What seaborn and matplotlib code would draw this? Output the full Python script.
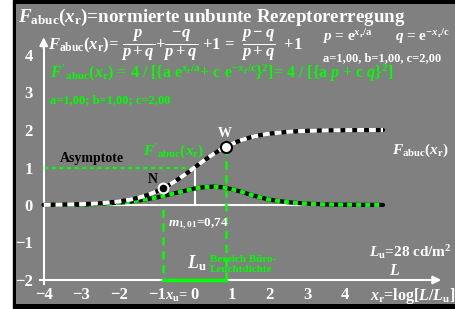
import matplotlib
matplotlib.use("Agg")
import matplotlib.pyplot as plt
import seaborn as sns
from matplotlib.patches import Rectangle

# values
x_curve = [-4.0, -3.5, -3.0, -2.5, -2.0, -1.75, -1.5, -1.25, -1.0, -0.75, -0.5, -0.25,
           0.0, 0.25, 0.5, 0.75, 1.0, 1.25, 1.5, 1.75, 2.0, 2.5, 3.0, 3.5, 4.0, 4.5, 5.0]
f_abuc = [0.005, 0.01, 0.022, 0.046, 0.095, 0.135, 0.19, 0.266, 0.365, 0.49, 0.642, 0.815,
          1.0, 1.185, 1.358, 1.51, 1.635, 1.734, 1.81, 1.865, 1.905, 1.954, 1.978, 1.99, 1.995, 1.998, 1.999]
f_deriv = [0.0, 0.005, 0.01, 0.03, 0.06, 0.085, 0.12, 0.16, 0.2, 0.26, 0.32, 0.38,
           0.44, 0.475, 0.49, 0.47, 0.42, 0.35, 0.27, 0.2, 0.14, 0.07, 0.035, 0.015, 0.008, 0.004, 0.002]
x_ticks = [-4, -3, -2, -1, 0, 1, 2, 3, 4]
y_ticks = [-2, -1, 0, 1, 2, 3, 4]
n_point = (-0.83, 0.45)
w_point = (0.84, 1.56)

sns.set_theme(style="white")
plt.rcParams["font.family"] = ["Liberation Serif", "DejaVu Serif"]
plt.rcParams["font.weight"] = "bold"
plt.rcParams["mathtext.fontset"] = "custom"
plt.rcParams["mathtext.rm"] = "Liberation Serif:bold"
plt.rcParams["mathtext.it"] = "Liberation Serif:italic:bold"
plt.rcParams["mathtext.bf"] = "Liberation Serif:bold"
plt.rcParams["lines.scale_dashes"] = False

GRAY = "#808080"
GREEN = "#00ff00"

fig = plt.figure(figsize=(4.55, 3.09), dpi=100, facecolor="white")
fig.patches.append(Rectangle((13 / 455, 0), 1, 1, transform=fig.transFigure,
                             color="black", zorder=-10))
ax = fig.add_axes([16 / 455, 5 / 309, 439 / 455, 300 / 309])
ax.set_zorder(1)
ax.set_facecolor(GRAY)
ax.set_xlim(-4.735, 6.91)
ax.set_ylim(-2.64, 5.36)

# axes drawn in white inside the grey field
for s in ("top", "right"):
    ax.spines[s].set_visible(False)
ax.spines["left"].set_position(("data", -4))
ax.spines["bottom"].set_position(("data", -2))
ax.spines["left"].set_bounds(-2.1, 4.3)
ax.spines["bottom"].set_bounds(-4.1, 6.4)
for s in ("left", "bottom"):
    ax.spines[s].set_color("white")
    ax.spines[s].set_linewidth(1.5)
ax.set_xticks(x_ticks)
ax.set_yticks(y_ticks)
ax.set_xticklabels([str(t).replace("-", "\u2212") for t in x_ticks])
ax.set_yticklabels([str(t).replace("-", "\u2212") for t in y_ticks])
ax.tick_params(direction="inout", length=7.5, width=1.5, colors="white", labelsize=12)
ax.tick_params(axis="y", pad=4)
ax.tick_params(axis="x", pad=1)
ax.annotate("", xy=(6.62, -2), xytext=(6.2, -2),
            arrowprops=dict(arrowstyle="-|>", color="white", lw=1.5, mutation_scale=12))
ax.annotate("", xy=(-4, 4.55), xytext=(-4, 4.1),
            arrowprops=dict(arrowstyle="-|>", color="white", lw=1.5, mutation_scale=12))

# helper lines
ax.plot([-4, 5], [0, 0], color="white", lw=1.5, zorder=2)
ax.plot([0, 0], [0, 1], color="white", lw=1.5, zorder=2)
ax.plot([-4, 0], [1, 1], color=GREEN, lw=1.6, dashes=(3, 2.5), zorder=2)
ax.plot([n_point[0], n_point[0]], [-0.1, -2], color=GREEN, lw=1.8, dashes=(6, 4), zorder=2)
ax.plot([w_point[0], w_point[0]], [w_point[1], -2], color=GREEN, lw=1.8, dashes=(6, 4), zorder=2)
ax.plot([n_point[0], w_point[0]], [-2, -2], color=GREEN, lw=2.5, zorder=3)

# derivative curve: black under green dashes
sns.lineplot(x=x_curve, y=f_deriv, ax=ax, color="black", lw=3, zorder=4)
sns.lineplot(x=x_curve, y=f_deriv, ax=ax, color=GREEN, lw=3, zorder=5
             ).lines[-1].set_dashes((3.5, 3))
# F_abuc curve: black under white dashes
sns.lineplot(x=x_curve, y=f_abuc, ax=ax, color="black", lw=3, zorder=6)
sns.lineplot(x=x_curve, y=f_abuc, ax=ax, color="white", lw=3, zorder=7
             ).lines[-1].set_dashes((5, 3.5))

ax.plot(*n_point, "o", ms=7, mfc="black", mec="white", mew=1.5, zorder=8)
ax.plot(*w_point, "o", ms=8, mfc="white", mec="black", mew=1.5, zorder=8)

# texts
ax.text(-4.68, 4.99, r"$F_{\mathrm{abuc}}(x_{\mathrm{r}})$=normierte unbunte Rezeptorerregung",
        color="white", fontsize=13.7, va="center", ha="left")
ax.text(-3.89, 4.25, r"$F_{\mathrm{abuc}}(x_\mathrm{r})$= $\dfrac{p}{p+q}$+$\dfrac{-q}{p+q}$ +1 = "
        r" $\dfrac{p-q}{p+q}$  +1", color="white", fontsize=12, va="center", ha="left")
ax.text(3.38, 4.5, r"$p$ = e$^{x_\mathrm{r}/\mathrm{a}}$", color="white", fontsize=11,
        va="center", ha="left")
ax.text(5.32, 4.5, r"$q$ = e$^{-x_\mathrm{r}/\mathrm{c}}$", color="white", fontsize=11,
        va="center", ha="left", clip_on=True)
ax.text(3.41, 3.92, "a=1,00, b=1,00, c=2,00", color="white", fontsize=9,
        va="center", ha="left")
ax.text(-3.83, 3.5, r"$F'_{\mathrm{abuc}}(x_\mathrm{r})$ = 4 / [{a e$^{x_\mathrm{r}/\mathrm{a}}$+ c e"
        r"$^{-x_\mathrm{r}/\mathrm{c}}$}$^2$]= 4 / [{a $p$ + c $q$}$^2$]",
        color=GREEN, fontsize=11.5, va="center", ha="left")
ax.text(-3.83, 2.8, "a=1,00; b=1,00; c=2,00", color=GREEN, fontsize=9, va="center", ha="left")

ax.text(-3.57, 1.25, "Asymptote", color="black", fontsize=10, va="center", ha="left")
ax.text(-1.37, 1.41, r"$F'_{\mathrm{abuc}}(x_\mathrm{r})$", color=GREEN, fontsize=11,
        va="center", ha="left")
ax.text(-1.1, 0.67, "N", color="black", fontsize=10, va="center", ha="center")
ax.text(0.81, 1.9, "W", color="white", fontsize=10, va="center", ha="center")
ax.text(5.24, 1.47, r"$F_{\mathrm{abuc}}(x_\mathrm{r})$", color="white", fontsize=11,
        va="center", ha="left")
ax.text(-0.7, -0.5, r"$m_{1,01}$=0,74", color="white", fontsize=9.5, va="center", ha="left")
ax.text(-0.2, -1.55, r"$L_\mathrm{u}$", color="white", fontsize=13, va="center", ha="left")
ax.text(0.41, -1.44, "Bereich Büro-", color=GREEN, fontsize=8, va="center", ha="left")
ax.text(0.41, -1.73, "Leuchtdichte", color=GREEN, fontsize=8, va="center", ha="left")
ax.text(-0.16, -2.46, r"$x_\mathrm{u}$=", color="white", fontsize=10.5, va="center", ha="right")
ax.text(4.63, -1.25, r"$L_\mathrm{u}$=28 cd/m$^2$", color="white", fontsize=11,
        va="center", ha="left")
ax.text(5.32, -1.76, r"$L$", color="white", fontsize=11.5, va="center", ha="center")
ax.text(4.66, -2.43, r"$x_\mathrm{r}$=log[$L/L_\mathrm{u}$]", color="white", fontsize=11.5,
        va="center", ha="left")

fig.savefig("out.png", dpi=100, facecolor="white")
